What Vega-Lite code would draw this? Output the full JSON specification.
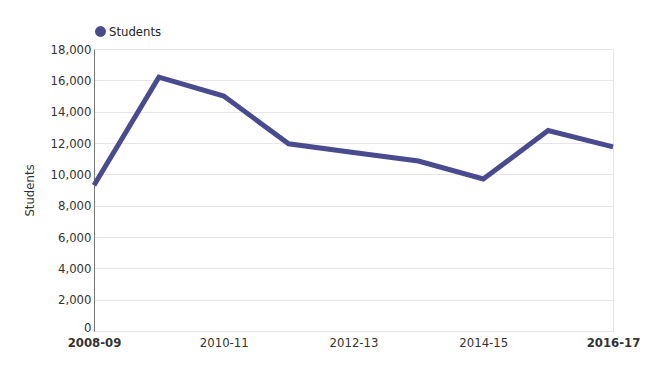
{
  "$schema": "https://vega.github.io/schema/vega-lite/v6.json",
  "width": 519,
  "height": 282,
  "autosize": {"type": "none"},
  "padding": {"left": 94, "top": 49, "right": 37, "bottom": 44},
  "background": "white",
  "data": {
    "values": [
      {"year": "2008-09", "students": 9300, "series": "Students"},
      {"year": "2009-10", "students": 16200, "series": "Students"},
      {"year": "2010-11", "students": 15000, "series": "Students"},
      {"year": "2011-12", "students": 11950, "series": "Students"},
      {"year": "2012-13", "students": 11400, "series": "Students"},
      {"year": "2013-14", "students": 10850, "series": "Students"},
      {"year": "2014-15", "students": 9700, "series": "Students"},
      {"year": "2015-16", "students": 12800, "series": "Students"},
      {"year": "2016-17", "students": 11750, "series": "Students"}
    ]
  },
  "mark": {"type": "line", "strokeWidth": 5, "strokeJoin": "miter"},
  "encoding": {
    "x": {
      "field": "year",
      "type": "ordinal",
      "scale": {"type": "point", "padding": 0},
      "axis": {
        "title": null,
        "values": ["2008-09", "2010-11", "2012-13", "2014-15", "2016-17"],
        "labelAngle": 0,
        "ticks": false,
        "domain": false,
        "grid": false,
        "labelPadding": 5,
        "labelFontSize": 13,
        "labelColor": "#333",
        "labelOverlap": false,
        "labelFontWeight": {"expr": "datum.label == '2008-09' || datum.label == '2016-17' ? 'bold' : 'normal'"}
      }
    },
    "y": {
      "field": "students",
      "type": "quantitative",
      "scale": {"domain": [0, 18000]},
      "axis": {
        "title": "Students",
        "titleFontSize": 13,
        "titleFontWeight": "normal",
        "titleColor": "#333",
        "titlePadding": 14,
        "values": [0, 2000, 4000, 6000, 8000, 10000, 12000, 14000, 16000, 18000],
        "format": ",.0f",
        "labelOverlap": false,
        "ticks": false,
        "labelPadding": 3,
        "labelFontSize": 13,
        "labelColor": "#333",
        "labelBaseline": {"expr": "datum.value == 0 ? 'alphabetic' : 'middle'"},
        "domainColor": "#777",
        "gridColor": "#e6e6e6"
      }
    },
    "color": {
      "field": "series",
      "type": "nominal",
      "scale": {"range": ["#4a4a8e"]},
      "legend": {
        "title": null,
        "orient": "top",
        "symbolType": "circle",
        "symbolFillColor": "#4a4a8e",
        "symbolStrokeWidth": 0,
        "symbolSize": 120,
        "labelFontSize": 13,
        "labelColor": "#222",
        "labelOffset": 2,
        "offset": 10
      }
    }
  },
  "config": {
    "font": "DejaVu Sans Condensed",
    "view": {"stroke": "#e6e6e6"}
  }
}
